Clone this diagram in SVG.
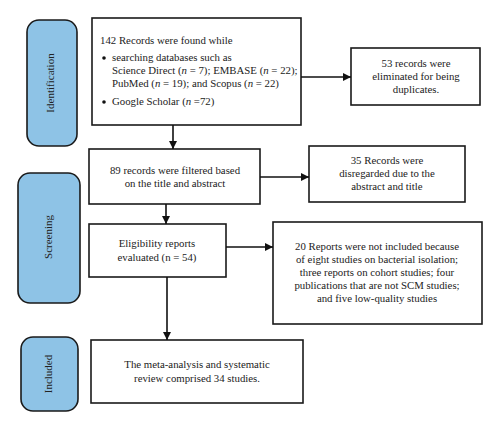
<svg xmlns="http://www.w3.org/2000/svg" width="500" height="429" viewBox="0 0 500 429">
<defs>
<marker id="ah" viewBox="0 0 10 10" refX="10" refY="5" markerWidth="8" markerHeight="8" markerUnits="userSpaceOnUse" orient="auto">
<path d="M0,0 L10,5 L0,10 Z" fill="#111"/>
</marker>
</defs>
<style>
.box{fill:#fff;stroke:#1a1a1a;stroke-width:1.6}
.pill{fill:#8ec3e6;stroke:#1a1a1a;stroke-width:1.6}
text{font-family:"Liberation Serif","Times New Roman",serif;font-size:10.8px;fill:#222}
.c{text-anchor:middle}
.lab{font-size:11px;text-anchor:middle}
.con{stroke:#111;stroke-width:1.6;fill:none;marker-end:url(#ah)}
</style>
<rect width="500" height="429" fill="#fff"/>
<g id="stage-identification">
<rect class="pill" x="27" y="20" width="50" height="126" rx="12"/>
<text class="lab" transform="translate(54,83) rotate(-90)">Identification</text>
</g>
<g id="stage-screening">
<rect class="pill" x="18" y="173" width="62" height="130" rx="12"/>
<text class="lab" transform="translate(52,237) rotate(-90)">Screening</text>
</g>
<g id="stage-included">
<rect class="pill" x="21" y="337" width="57" height="74" rx="12"/>
<text class="lab" transform="translate(52,374) rotate(-90)">Included</text>
</g>
<g id="records-found">
<rect class="box" x="92" y="18" width="209" height="107"/>
<text x="100" y="44">142 Records were found while</text>
<circle cx="104" cy="58" r="1.8" fill="#111"/>
<text x="112" y="61">searching databases such as</text>
<text x="112" y="74">Science Direct (<tspan font-style="italic">n</tspan> = 7); EMBASE (<tspan font-style="italic">n</tspan> = 22);</text>
<text x="112" y="87">PubMed (<tspan font-style="italic">n</tspan> = 19); and Scopus (<tspan font-style="italic">n</tspan> = 22)</text>
<circle cx="104" cy="102" r="1.8" fill="#111"/>
<text x="112" y="105">Google Scholar (<tspan font-style="italic">n</tspan> =72)</text>
</g>
<g id="duplicates">
<rect class="box" x="351" y="48" width="129" height="57"/>
<text class="c" x="416" y="67">53 records were</text>
<text class="c" x="416" y="80">eliminated for being</text>
<text class="c" x="416" y="93">duplicates.</text>
</g>
<g id="filtered">
<rect class="box" x="89" y="149" width="171" height="55"/>
<text class="c" x="175" y="174">89 records were filtered based</text>
<text class="c" x="175" y="187">on the title and abstract</text>
</g>
<g id="disregarded">
<rect class="box" x="309" y="146" width="156" height="56"/>
<text class="c" x="387" y="164">35 Records were</text>
<text class="c" x="387" y="177">disregarded due to the</text>
<text class="c" x="387" y="190">abstract and title</text>
</g>
<g id="eligibility">
<rect class="box" x="89" y="224" width="137" height="53"/>
<text class="c" x="157" y="247">Eligibility reports</text>
<text class="c" x="157" y="261">evaluated (n = 54)</text>
</g>
<g id="excluded">
<rect class="box" x="273" y="222" width="209" height="102"/>
<text class="c" x="377" y="250">20 Reports were not included because</text>
<text class="c" x="377" y="263">of eight studies on bacterial isolation;</text>
<text class="c" x="377" y="276">three reports on cohort studies; four</text>
<text class="c" x="377" y="289">publications that are not SCM studies;</text>
<text class="c" x="377" y="302">and five low-quality studies</text>
</g>
<g id="included">
<rect class="box" x="91" y="340" width="212" height="63"/>
<text class="c" x="197" y="368">The meta-analysis and systematic</text>
<text class="c" x="197" y="382">review comprised 34 studies.</text>
</g>
<g id="connectors">
<line class="con" x1="173" y1="125" x2="173" y2="149"/>
<line class="con" x1="301" y1="77" x2="351" y2="77"/>
<line class="con" x1="260" y1="177" x2="309" y2="177"/>
<line class="con" x1="166" y1="204" x2="166" y2="224"/>
<line class="con" x1="226" y1="247" x2="273" y2="247"/>
<line class="con" x1="167" y1="277" x2="167" y2="340"/>
</g>
</svg>
